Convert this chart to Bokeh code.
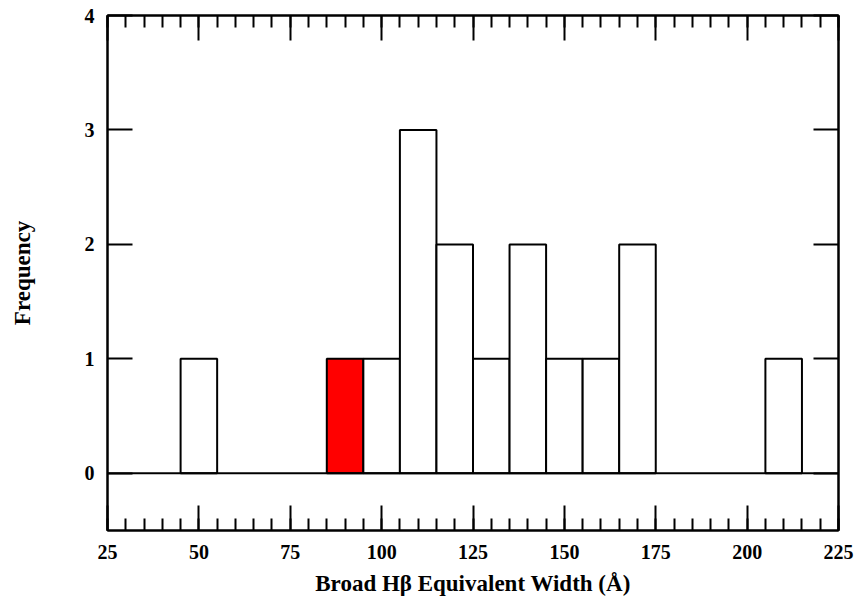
from bokeh.plotting import figure
from bokeh.models import LinearAxis, FixedTicker, Span, ColumnDataSource, Range1d
from bokeh.embed import file_html
from bokeh.resources import INLINE

# Data
bin_centers = [50, 90, 100, 110, 120, 130, 140, 150, 160, 170, 210]
counts = [1, 1, 1, 3, 2, 1, 2, 1, 1, 2, 1]
highlight = [False, True, False, False, False, False, False, False, False, False, False]
bin_width = 10
x_ticks = [25, 50, 75, 100, 125, 150, 175, 200, 225]
y_ticks = [0, 1, 2, 3, 4]
x_label = "Broad H\u03b2 Equivalent Width (\u00c5)"
y_label = "Frequency"

FONT = "Liberation Serif"

src = ColumnDataSource(dict(
    left=[c - bin_width / 2 for c in bin_centers],
    right=[c + bin_width / 2 for c in bin_centers],
    top=counts,
    bottom=[0] * len(counts),
    color=["#ff0000" if h else "#ffffff" for h in highlight],
))

p = figure(width=856, height=603, output_backend="svg", toolbar_location=None,
           x_range=Range1d(25, 225), y_range=Range1d(-0.5, 4),
           min_border_left=107, min_border_right=18, min_border_top=15, min_border_bottom=73,
           x_axis_location=None, y_axis_location=None)
p.grid.visible = False
p.outline_line_color = "black"
p.outline_line_width = 2
p.background_fill_color = "white"
p.border_fill_color = "white"

p.quad(left="left", right="right", top="top", bottom="bottom", source=src,
       fill_color="color", line_color="black", line_width=2)

p.add_layout(Span(location=0, dimension="width", line_color="black", line_width=2))


def style_axis(ax, ticks, labels=True, minor=True):
    ax.axis_line_color = "black"
    ax.axis_line_width = 2
    ax.major_tick_in = 25
    ax.major_tick_out = 0
    ax.major_tick_line_width = 2
    ax.major_tick_line_color = "black"
    if minor:
        ax.minor_tick_in = 12
        ax.minor_tick_out = 0
        ax.minor_tick_line_width = 2
        ax.minor_tick_line_color = "black"
    else:
        ax.minor_tick_line_color = None
    ax.major_label_text_font = FONT
    ax.major_label_text_font_style = "bold"
    ax.major_label_text_color = "black"
    if labels:
        ax.major_label_text_font_size = "20px"
    else:
        ax.major_label_overrides = {t: "" for t in ticks}
        ax.major_label_text_font_size = "1px"
        ax.major_label_standoff = 0
    ax.axis_label_text_font = FONT
    ax.axis_label_text_font_style = "bold"
    ax.axis_label_text_font_size = "23px"
    ax.axis_label_text_color = "black"


xt = FixedTicker(ticks=x_ticks, minor_ticks=list(range(25, 226, 5)))
yt = FixedTicker(ticks=y_ticks, minor_ticks=[])

bottom = LinearAxis(ticker=xt, axis_label=x_label)
style_axis(bottom, x_ticks)
bottom.major_label_standoff = 14
bottom.axis_label_standoff = 9
p.add_layout(bottom, "below")

top = LinearAxis(ticker=xt)
style_axis(top, x_ticks, labels=False)
p.add_layout(top, "above")

left = LinearAxis(ticker=yt, axis_label=y_label)
style_axis(left, y_ticks, minor=False)
left.major_label_standoff = 13
left.axis_label_standoff = 47
p.add_layout(left, "left")

right = LinearAxis(ticker=yt)
style_axis(right, y_ticks, labels=False, minor=False)
p.add_layout(right, "right")

open("out.html", "w").write(file_html(p, INLINE))
